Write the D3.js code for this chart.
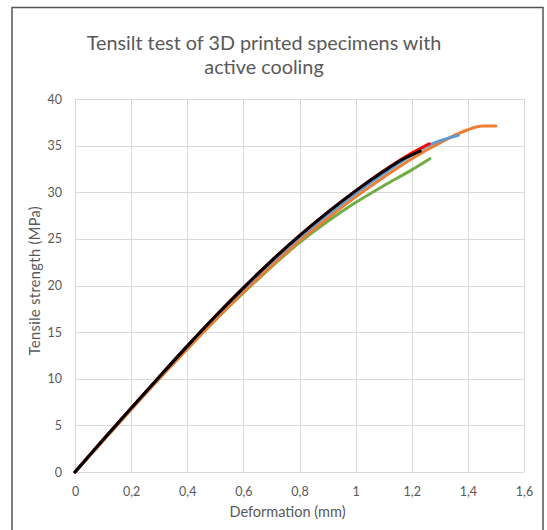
<!DOCTYPE html>
<html>
<head>
<meta charset="utf-8">
<script src="https://cdn.jsdelivr.net/npm/d3@7"></script>
<style>
  body { margin: 0; background: #fff; }
  svg { display: block; }
</style>
</head>
<body>
<svg id="chart" width="547" height="530"></svg>
<script>
// deformation (mm) / tensile strength (MPa), one pair of arrays per specimen
var green_x = [0, 0.1, 0.2, 0.3, 0.4, 0.5, 0.6, 0.7, 0.8, 0.92, 1.0, 1.1, 1.2, 1.265];
var green_y = [0, 3.35, 6.7, 10.0, 13.2, 16.3, 19.2, 22.0, 24.6, 27.3, 28.9, 30.7, 32.4, 33.6];

var orange_x = [0, 0.1, 0.2, 0.3, 0.4, 0.5, 0.6, 0.7, 0.8, 0.9, 1.0, 1.1, 1.2, 1.3, 1.4, 1.45, 1.5];
var orange_y = [0, 3.35, 6.7, 10.0, 13.2, 16.3, 19.3, 22.1, 24.8, 27.2, 29.5, 31.6, 33.6, 35.3, 36.7, 37.1, 37.1];

var blue_x = [0, 0.1, 0.2, 0.3, 0.4, 0.5, 0.6, 0.7, 0.8, 0.9, 1.0, 1.1, 1.2, 1.265, 1.366];
var blue_y = [0, 3.45, 6.85, 10.2, 13.5, 16.65, 19.65, 22.5, 25.15, 27.6, 29.9, 32.0, 34.0, 35.1, 36.1];

var red_x = [0, 0.1, 0.2, 0.3, 0.4, 0.5, 0.6, 0.7, 0.8, 0.9, 1.0, 1.1, 1.2, 1.262];
var red_y = [0, 3.45, 6.85, 10.2, 13.5, 16.7, 19.75, 22.65, 25.35, 27.85, 30.15, 32.3, 34.2, 35.2];

var black_x = [0, 0.1, 0.2, 0.3, 0.4, 0.5, 0.6, 0.7, 0.8, 0.9, 1.0, 1.1, 1.16, 1.23];
var black_y = [0, 3.45, 6.85, 10.2, 13.5, 16.7, 19.75, 22.65, 25.35, 27.85, 30.15, 32.25, 33.4, 34.4];

var x_ticks = [0, 0.2, 0.4, 0.6, 0.8, 1, 1.2, 1.4, 1.6];
var y_ticks = [0, 5, 10, 15, 20, 25, 30, 35, 40];

var title_lines = ["Tensilt test of 3D printed specimens with", "active cooling"];
var x_title = "Deformation (mm)";
var y_title = "Tensile strength (MPa)";

var series = [
	{name: "green", color: "#70AD47", xs: green_x, ys: green_y},
	{name: "orange", color: "#ED7D31", xs: orange_x, ys: orange_y},
	{name: "blue", color: "#5B9BD5", xs: blue_x, ys: blue_y},
	{name: "red", color: "#FF0000", xs: red_x, ys: red_y},
	{name: "black", color: "#000000", xs: black_x, ys: black_y}
];

var font = "Lato, 'Open Sans', sans-serif";
var text_color = "#595959";
var grid_color = "#D9D9D9";

var margin = {left: 75, top: 99};
var width = 449, height = 373;

var root = d3.select("#chart");

// outer chart border (bottom edge falls outside the picture)
root.append("path")
	.attr("d", "M12,532 L12,7.5 L543,7.5 L543,532")
	.attr("fill", "none")
	.attr("stroke", "#555")
	.attr("stroke-width", 1.5);

// title
root.append("g").selectAll("text")
	.data(title_lines).enter().append("text")
	.attr("x", 264)
	.attr("y", function(d, i) { return 50 + i * 24; })
	.attr("text-anchor", "middle")
	.attr("font-family", font)
	.attr("font-size", "19.8px")
	.attr("fill", text_color)
	.text(function(d) { return d; });

var svg = root.append("g").attr("transform", "translate(" + margin.left + "," + margin.top + ")");

var x = d3.scaleLinear().domain([0, 1.6]).range([0, width]);
var y = d3.scaleLinear().domain([0, 40]).range([height, 0]);

// gridlines
svg.append("g").selectAll("line")
	.data(y_ticks).enter().append("line")
	.attr("x1", 0).attr("x2", width)
	.attr("y1", function(d) { return Math.round(y(d)) + 0.5; })
	.attr("y2", function(d) { return Math.round(y(d)) + 0.5; })
	.attr("stroke", grid_color)
	.attr("stroke-width", 1);
svg.append("g").selectAll("line")
	.data(x_ticks).enter().append("line")
	.attr("y1", 0).attr("y2", height)
	.attr("x1", function(d) { return Math.round(x(d)) + 0.5; })
	.attr("x2", function(d) { return Math.round(x(d)) + 0.5; })
	.attr("stroke", grid_color)
	.attr("stroke-width", 1);

// axes: labels only, no tick marks or domain line
var fmt = function(d) { return String(d).replace(".", ","); };
var xa = svg.append("g")
	.attr("transform", "translate(0," + height + ")")
	.call(d3.axisBottom(x).tickValues(x_ticks).tickFormat(fmt).tickSize(0).tickPadding(15));
var ya = svg.append("g")
	.call(d3.axisLeft(y).tickValues(y_ticks).tickFormat(fmt).tickSize(0).tickPadding(13));
[xa, ya].forEach(function(a) {
	a.select(".domain").remove();
	a.selectAll("text")
		.attr("font-family", font)
		.attr("font-size", "12.5px")
		.attr("fill", text_color);
});

// the curves
var line = d3.line()
	.x(function(d) { return x(d[0]); })
	.y(function(d) { return y(d[1]); })
	.curve(d3.curveMonotoneX);

svg.append("g").selectAll("path")
	.data(series).enter().append("path")
	.attr("fill", "none")
	.attr("stroke", function(d) { return d.color; })
	.attr("stroke-width", 3)
	.attr("stroke-linecap", "round")
	.attr("d", function(d) { return line(d3.zip(d.xs, d.ys)); });

// axis titles
root.append("text")
	.attr("x", margin.left + width / 2 - 12)
	.attr("y", 517)
	.attr("text-anchor", "middle")
	.attr("font-family", font)
	.attr("font-size", "14.5px")
	.attr("fill", text_color)
	.text(x_title);

root.append("text")
	.attr("transform", "translate(40," + (margin.top + height / 2 - 5) + ") rotate(-90)")
	.attr("text-anchor", "middle")
	.attr("font-family", font)
	.attr("font-size", "14.5px")
	.attr("letter-spacing", "0.4px")
	.attr("fill", text_color)
	.text(y_title);
</script>
</body>
</html>
